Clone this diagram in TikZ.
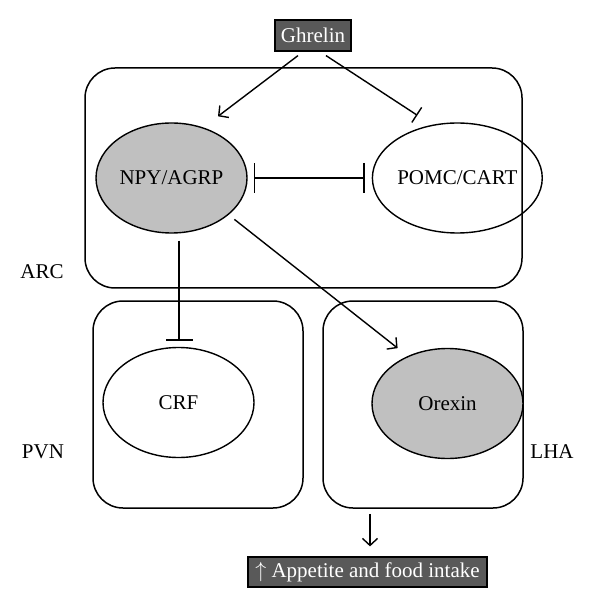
\documentclass[tikz,border=0pt]{standalone}
\usepackage{fontspec}
\setmainfont{Liberation Serif}
\usepackage{xcolor}
\definecolor{cellgray}{HTML}{C0C0C0}
\definecolor{tagdark}{HTML}{595959}
\usepackage{tikz}
\usetikzlibrary{arrows.meta,positioning,shapes.geometric,calc}

\begin{document}
\begin{tikzpicture}[x=0.5pt,y=-0.5pt,
  region/.style={draw,line width=0.75pt,rounded corners=15pt,minimum width=218.5pt,minimum height=110pt,inner sep=0pt},
  cell/.style={draw,ellipse,line width=0.7pt,minimum width=75.5pt,minimum height=55pt,inner sep=0pt,font=\fontsize{10.5}{12}\selectfont},
  tag/.style={draw=black,fill=tagdark,text=white,line width=0.6pt,minimum width=38pt,minimum height=15.5pt,inner sep=0pt,font=\fontsize{10.5}{12}\selectfont},
  lbl/.style={font=\fontsize{10.5}{12}\selectfont},
  act/.style={-{Straight Barb[length=3.5pt,width=7.5pt]},line width=0.7pt},
  inh/.style={-{Bar[width=13.5pt]},line width=0.7pt}]
\useasboundingbox (0,0) rectangle (600,608);
\node[region] (arc) at (303.5,178) {};
\node[region,minimum width=105pt,minimum height=103.5pt] (pvn) at (198,404.5) {};
\node[region,minimum width=100pt,minimum height=103.5pt] (lha) at (423,404.5) {};
\node[cell,fill=cellgray] (npy) at (171.5,178) {NPY/AGRP};
\node[cell,right=62pt of npy] (pomc) {POMC/CART};
\node[cell] (crf) at (178.5,402.5) {CRF};
\node[cell,fill=cellgray] (orexin) at (447.5,403.5) {Orexin};
\node[tag] (ghrelin) at (313,35.5) {Ghrelin};
\node[tag,minimum width=119.5pt,minimum height=15pt] (appetite) at (367.5,572) {$\uparrow$ Appetite and food intake};
\node[lbl] (arclbl) at (42,272) {ARC};
\node[lbl] (pvnlbl) at (43,452) {PVN};
\node[lbl] (lhalbl) at (552,452) {LHA};
\draw[act] ($(ghrelin.south)+(-15,4)$) -- ($(npy.north)+(46.5,-6)$);
\draw[line width=0.7pt,-{Bar[width=9pt]}] ($(ghrelin.south)+(13,4)$) -- ($(pomc.north)+(-40,-7)$);
\draw[line width=0.7pt,{Bar[width=15pt]}-{Bar[width=15pt]}] ($(npy.east)+(6,0)$) -- ($(pomc.west)+(-7,0)$);
\draw[inh] ($(crf.north |- npy.south)+(0.5,7)$) -- ($(crf.north)+(0.5,-6)$);
\draw[act] ($(npy.south east)+(9,2)$) -- ($(orexin.north west)+(4,-16)$);
\draw[act] ($(appetite.north |- lha.south)+(2.5,5)$) -- ($(appetite.north)+(2.5,-10)$);
\end{tikzpicture}
\end{document}
